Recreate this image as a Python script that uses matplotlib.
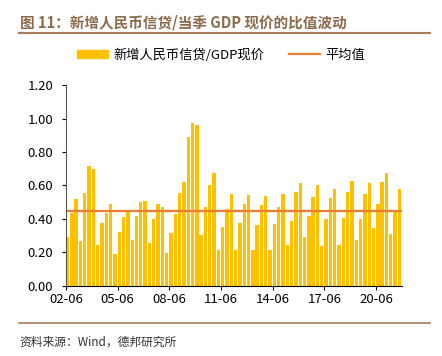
import matplotlib.pyplot as plt
import matplotlib.patches as mpatches
import matplotlib.lines as mlines
import pandas as pd

plt.rcParams['font.family'] = ['Noto Sans CJK SC', 'DejaVu Sans']

# 季度数据：2002-06 至 2021-09
quarters = pd.period_range('2002Q2', '2021Q3', freq='Q').strftime('%y-%m').tolist()
ratio = [0.29, 0.437, 0.52, 0.27, 0.555, 0.715, 0.70, 0.245, 0.374, 0.434,
         0.489, 0.189, 0.324, 0.41, 0.441, 0.274, 0.419, 0.499, 0.507, 0.255,
         0.40, 0.49, 0.469, 0.199, 0.318, 0.428, 0.555, 0.622, 0.888, 0.976,
         0.962, 0.304, 0.469, 0.60, 0.672, 0.217, 0.354, 0.459, 0.547, 0.217,
         0.376, 0.49, 0.541, 0.217, 0.362, 0.483, 0.535, 0.217, 0.37, 0.469,
         0.549, 0.245, 0.389, 0.562, 0.612, 0.29, 0.419, 0.533, 0.604, 0.239,
         0.398, 0.527, 0.577, 0.246, 0.405, 0.562, 0.628, 0.274, 0.40, 0.549,
         0.612, 0.346, 0.49, 0.62, 0.672, 0.31, 0.45, 0.577]
mean_value = 0.45
tick_labels = ['02-06', '05-06', '08-06', '11-06', '14-06', '17-06', '20-06']

bar_color = '#FFC000'
line_color = '#ED7D31'
brown = '#A87E5C'

fig = plt.figure(figsize=(4.42, 3.56), dpi=100)
ax = fig.add_axes([0.149, 0.197, 0.7605, 0.564])

x = list(range(len(quarters)))
ax.bar(x, ratio, width=0.78, align='edge', color=bar_color, linewidth=0)
ax.axhline(mean_value, color=line_color, linewidth=1.6)

ax.set_xlim(0, len(quarters))
ax.set_ylim(0, 1.2)
ax.set_yticks([0, 0.2, 0.4, 0.6, 0.8, 1.0, 1.2])
ax.set_yticklabels([f'{v:.2f}' for v in ax.get_yticks()])
ticks = [quarters.index(t) for t in tick_labels]
ax.set_xticks(ticks)
ax.set_xticklabels(tick_labels)
ax.tick_params(axis='both', direction='out', length=3, width=0.8, labelsize=9.5,
               colors='black', pad=2)
ax.tick_params(axis='y', pad=6)
for s in ['top', 'right']:
    ax.spines[s].set_visible(False)
ax.spines['left'].set_color('#555555')
ax.spines['bottom'].set_color('black')

# 标题与上下分隔线
fig.text(0.045, 0.938, '图 11：新增人民币信贷/当季 GDP 现价的比值波动', fontsize=10.5,
         fontweight='bold', color='#8C6B4C', va='center', ha='left')
fig.add_artist(mlines.Line2D([0.043, 0.973], [0.908, 0.908], color=brown, linewidth=1.5))
fig.add_artist(mlines.Line2D([0.043, 0.973], [0.092, 0.092], color=brown, linewidth=1.2))

handles = [mpatches.Patch(color=bar_color, label='新增人民币信贷/GDP现价'),
           mlines.Line2D([], [], color=line_color, linewidth=1.6, label='平均值')]
fig.legend(handles=handles, loc='center', bbox_to_anchor=(0.5, 0.845), ncol=2,
           frameon=False, fontsize=9.5, handlelength=2.4, handleheight=0.55,
           columnspacing=1.8, handletextpad=0.4)

fig.text(0.045, 0.04, '资料来源：Wind，德邦研究所', fontsize=8.5, color='#333333',
         va='center', ha='left')

plt.savefig('out.png', dpi=100)
